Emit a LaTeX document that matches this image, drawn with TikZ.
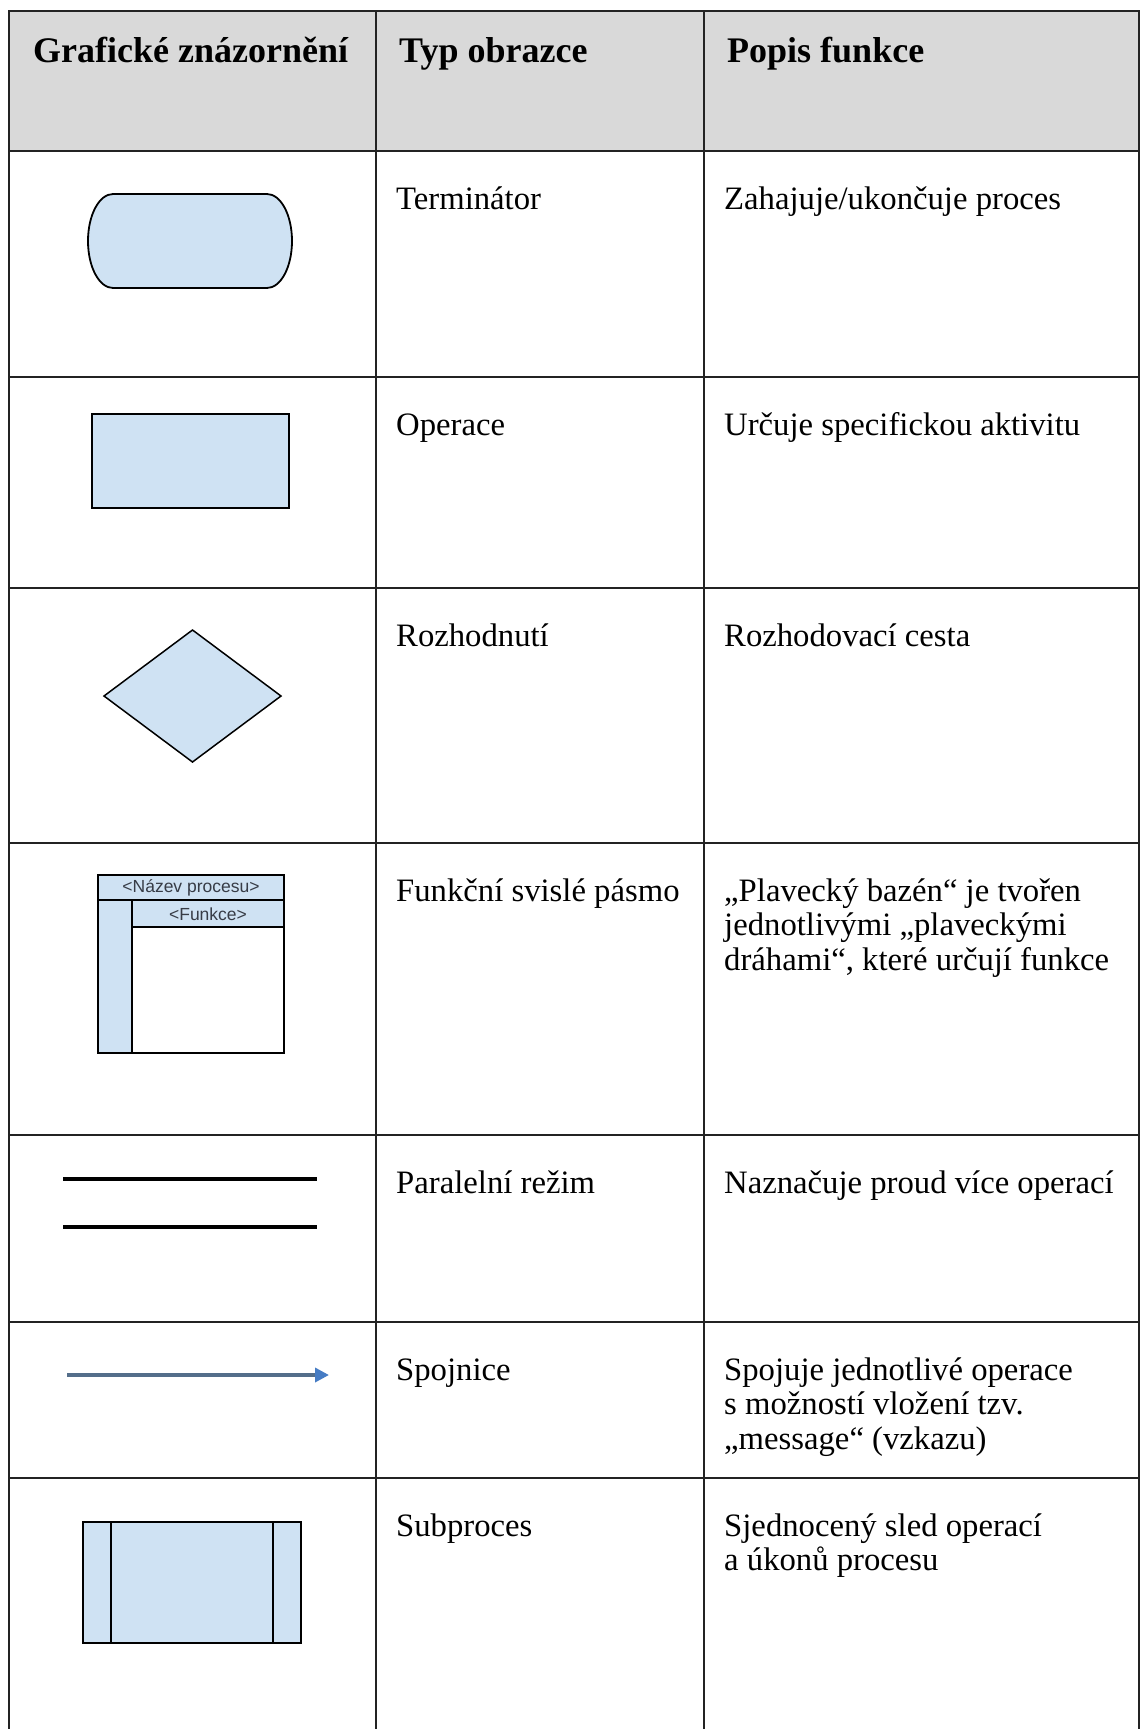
\documentclass[tikz,border=0pt]{standalone}
\usepackage{fontspec}
\setmainfont{Liberation Serif}
\newfontfamily\lanefont{Liberation Sans}
\usetikzlibrary{arrows.meta}

\definecolor{shapefill}{RGB}{207,226,243}
\definecolor{headfill}{RGB}{217,217,217}
\definecolor{gridline}{RGB}{35,35,35}
\definecolor{linkline}{RGB}{84,110,138}
\definecolor{linktip}{RGB}{70,124,196}
\definecolor{lanetext}{RGB}{55,60,70}

\begin{document}
\begin{tikzpicture}[x=1pt,y=-1pt,
  grid/.style={draw=gridline, line width=1.8},
  headtext/.style={font=\fontsize{36}{40}\selectfont\bfseries, anchor=base west, inner sep=0},
  celltext/.style={font=\fontsize{32.7}{34.5}\selectfont, anchor=north west, inner sep=0, align=left},
  shapeline/.style={draw=black, line width=1.8, fill=shapefill},
  lanelabel/.style={font=\lanefont\fontsize{17.5}{18}\selectfont, text=lanetext, inner sep=0},
  laneline/.style={draw=black, line width=1.6},
  parline/.style={draw=black, line width=3.5},
]
\useasboundingbox (0,0) rectangle (1141,1729);
\fill[white] (0,0) rectangle (1141,1729);

% table frame and header band
\fill[headfill] (9,11) rectangle (1139,151);
\draw[grid] (9,1729) -- (9,11) -- (1139,11) -- (1139,1729);
\foreach \y in {151,377,588,843,1135,1322,1478}
  \draw[grid] (9,\y) -- (1139,\y);
\draw[grid] (376,11) -- (376,1729);
\draw[grid] (704,11) -- (704,1729);

% header texts
\node[headtext] (hgraf) at (33,62) {Grafické znázornění};
\node[headtext] (htyp)  at (399,62) {Typ obrazce};
\node[headtext] (hpopis) at (727,62) {Popis funkce};

% row texts
\node[celltext] (t1) at (396,185) {\strut Terminátor};
\node[celltext] (d1) at (724,185) {\strut Zahajuje/ukončuje proces};
\node[celltext] (t2) at (396,411) {\strut Operace};
\node[celltext] (d2) at (724,411) {\strut Určuje specifickou aktivitu};
\node[celltext] (t3) at (396,622) {\strut Rozhodnutí};
\node[celltext] (d3) at (724,622) {\strut Rozhodovací cesta};
\node[celltext] (t4) at (396,877) {\strut Funkční svislé pásmo};
\node[celltext] (d4) at (724,877) {\strut „Plavecký bazén“ je tvořen\\jednotlivými „plaveckými\\dráhami“, které určují funkce};
\node[celltext] (t5) at (396,1169) {\strut Paralelní režim};
\node[celltext] (d5) at (724,1169) {\strut Naznačuje proud více operací};
\node[celltext] (t6) at (396,1356) {\strut Spojnice};
\node[celltext] (d6) at (724,1356) {\strut Spojuje jednotlivé operace\\s možností vložení tzv.\\„message“ (vzkazu)};
\node[celltext] (t7) at (396,1512) {\strut Subproces};
\node[celltext] (d7) at (724,1512) {\strut Sjednocený sled operací\\a úkonů procesu};

% terminator
\draw[shapeline] (113,194) -- (267,194)
  arc[start angle=-90, end angle=90, x radius=25, y radius=47]
  -- (113,288)
  arc[start angle=90, end angle=270, x radius=25, y radius=47] -- cycle;

% operation
\draw[shapeline] (92,414) rectangle (289,508);

% decision
\draw[shapeline, line width=1.5] (192.5,630) -- (281,696) -- (192.5,762) -- (104,696) -- cycle;

% swimlane
\fill[shapefill] (98,875) rectangle (284,900);
\fill[shapefill] (98,900) rectangle (132,1053);
\fill[shapefill] (132,900) rectangle (284,927);
\draw[laneline] (98,875) rectangle (284,1053);
\draw[laneline] (98,900) -- (284,900);
\draw[laneline] (132,900) -- (132,1053);
\draw[laneline] (132,927) -- (284,927);
\node[lanelabel] (pname) at (191,888) {<Název procesu>};
\node[lanelabel] (fname) at (208,914) {<Funkce>};

% parallel mode
\draw[parline] (63,1179) -- (317,1179);
\draw[parline] (63,1227) -- (317,1227);

% connector
\coordinate (cstart) at (67,1375);
\coordinate (cend) at (329,1375);
\draw[linkline, line width=3.4, -{Triangle[length=14pt,width=14pt,color=linktip]}] (cstart) -- (cend);

% subprocess
\draw[shapeline, line width=2.4] (83,1522) rectangle (301,1643);
\draw[black, line width=2.4] (111,1522) -- (111,1643);
\draw[black, line width=2.4] (273,1522) -- (273,1643);
\end{tikzpicture}
\end{document}
